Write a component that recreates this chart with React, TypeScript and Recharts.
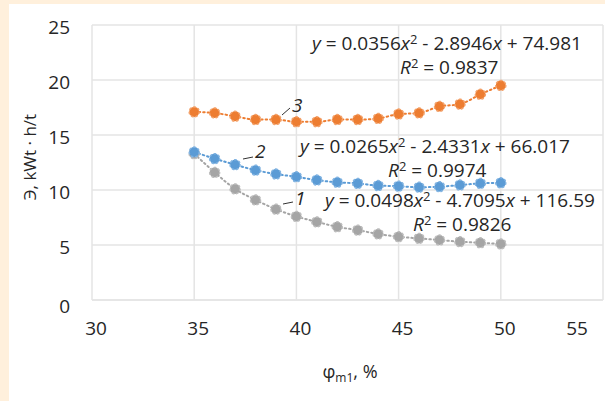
import { LineChart, Line, XAxis, YAxis, CartesianGrid } from "recharts";

const phiValues = [35, 36, 37, 38, 39, 40, 41, 42, 43, 44, 45, 46, 47, 48, 49, 50];
const curveOne = [13.3, 11.6, 10.1, 9.1, 8.25, 7.6, 7.1, 6.65, 6.35, 6.0, 5.75, 5.6, 5.45, 5.3, 5.2, 5.1];
const curveTwo = [13.45, 12.85, 12.3, 11.8, 11.45, 11.2, 10.9, 10.7, 10.6, 10.4, 10.35, 10.25, 10.3, 10.45, 10.6, 10.65];
const curveThree = [17.1, 17.0, 16.7, 16.4, 16.4, 16.2, 16.2, 16.4, 16.4, 16.5, 16.9, 17.0, 17.6, 17.8, 18.7, 19.5];
const xTicks = [30, 35, 40, 45, 50, 55];
const yTicks = [0, 5, 10, 15, 20, 25];

const data = phiValues.map((phi, i) => ({
  phi,
  c1: curveOne[i],
  c2: curveTwo[i],
  c3: curveThree[i],
}));

const FONT = "'Open Sans', sans-serif";
const TEXT = "#262626";

function XTick(props: any) {
  const { x, y, payload } = props;
  const shift = payload.value === 55 ? -20 : 4;
  return (
    <text x={x + shift} y={y + 20} dy="0.71em" textAnchor="middle" fontSize={19} fontFamily={FONT} fill={TEXT}>
      {payload.value}
    </text>
  );
}

function YTick(props: any) {
  const { x, y, payload } = props;
  const down = payload.value === 0 ? 6 : 2;
  return (
    <text x={x - 20} y={y + down} dy="0.36em" textAnchor="end" fontSize={19} fontFamily={FONT} fill={TEXT}>
      {payload.value}
    </text>
  );
}

function Equation({ x, y, a, b, c, r }: { x: number; y: number; a: string; b: string; c: string; r: string }) {
  return (
    <g fontFamily={FONT} fontSize={19} fill={TEXT}>
      <text x={x} y={y}>
        <tspan fontStyle="italic">y</tspan>
        <tspan> = {a}</tspan>
        <tspan fontStyle="italic">x</tspan>
        <tspan fontSize={13} dy={-6}>2</tspan>
        <tspan dy={6}> - {b}</tspan>
        <tspan fontStyle="italic">x</tspan>
        <tspan> + {c}</tspan>
      </text>
      <text x={x + 88} y={y + 24}>
        <tspan fontStyle="italic">R</tspan>
        <tspan fontSize={13} dy={-6}>2</tspan>
        <tspan dy={6}> = {r}</tspan>
      </text>
    </g>
  );
}

function dot(fill: string, ring: string) {
  return { r: 5, fill, stroke: ring, strokeWidth: 1.5 };
}

export default function App() {
  return (
    <div style={{ position: "absolute", left: 0, top: 0, width: 605, height: 401, background: "#FFF0DC" }}>
      <div style={{ position: "absolute", left: 9, top: 4, width: 596, height: 397, background: "#fff" }}>
        <LineChart width={596} height={397} data={data} margin={{ top: 21, right: 2, bottom: 0, left: 0 }}>
          <CartesianGrid stroke="#E4E4E4" strokeWidth={1.5} />
          <XAxis
            dataKey="phi"
            type="number"
            domain={[30, 55]}
            ticks={xTicks}
            height={101}
            tickSize={0}
            axisLine={{ stroke: "#E4E4E4", strokeWidth: 1.5 }}
            tick={<XTick />}
          />
          <YAxis
            type="number"
            domain={[0, 25]}
            ticks={yTicks}
            width={83}
            tickSize={0}
            axisLine={false}
            tick={<YTick />}
          />
          <Line dataKey="c1" type="monotone" stroke="#A5A5A5" strokeWidth={2} strokeDasharray="1.5 3" strokeLinecap="round" dot={dot("#A5A5A5", "#BDBDBD")} isAnimationActive={false} />
          <Line dataKey="c2" type="monotone" stroke="#5B9BD5" strokeWidth={2} strokeDasharray="1.5 3" strokeLinecap="round" dot={dot("#5B9BD5", "#82B4E2")} isAnimationActive={false} />
          <Line dataKey="c3" type="monotone" stroke="#ED7D31" strokeWidth={2} strokeDasharray="1.5 3" strokeLinecap="round" dot={dot("#ED7D31", "#F3A26B")} isAnimationActive={false} />
        </LineChart>
        <svg width={596} height={397} style={{ position: "absolute", left: 0, top: 0, pointerEvents: "none" }}>
          <text transform="translate(21,153) rotate(-90)" textAnchor="middle" dy="0.35em" fontSize={17} fontFamily={FONT} fill={TEXT}>
            Э, kWt · h/t
          </text>
          <text x={341} y={374} textAnchor="middle" fontSize={18} fontFamily={FONT} fill={TEXT}>
            φ<tspan fontSize={12} dy={4}>m1</tspan>
            <tspan dy={-4}>, %</tspan>
          </text>
          <Equation x={303} y={46} a="0.0356" b="2.8946" c="74.981" r="0.9837" />
          <Equation x={291} y={149} a="0.0265" b="2.4331" c="66.017" r="0.9974" />
          <Equation x={316} y={203} a="0.0498" b="4.7095" c="116.59" r="0.9826" />
          <g fontFamily={FONT} fontSize={19} fontStyle="italic" fill={TEXT}>
            <text x={283} y={108}>3</text>
            <text x={246} y={154}>2</text>
            <text x={286} y={201}>1</text>
          </g>
          <g stroke="#333" strokeWidth={1}>
            <line x1={273} y1={111} x2={281} y2={104} />
            <line x1={234} y1={155} x2={244} y2={153} />
            <line x1={274} y1={200} x2={284} y2={198} />
          </g>
        </svg>
      </div>
    </div>
  );
}
